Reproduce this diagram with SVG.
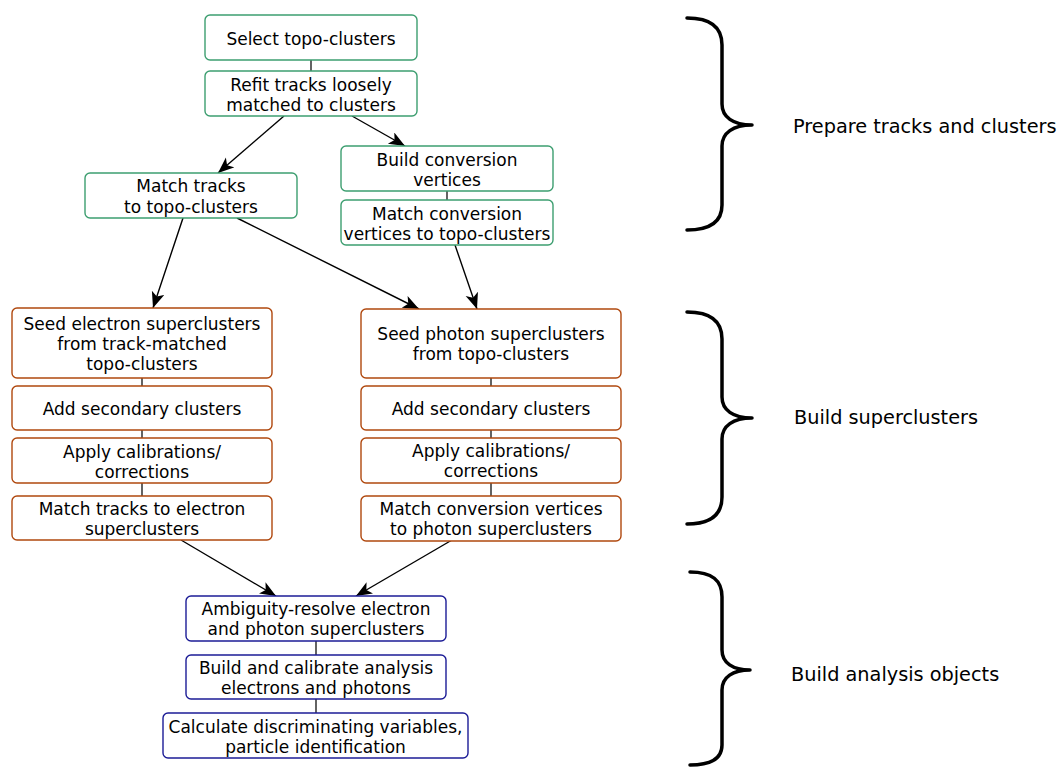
<svg xmlns="http://www.w3.org/2000/svg" width="1062" height="767" viewBox="0 0 1062 767">
<style>
  .box { fill: #ffffff; stroke-width: 1.4; }
  .g { stroke: #3d9e70; }
  .o { stroke: #b0480e; }
  .b { stroke: #1c1c96; }
  .t { font-family: "DejaVu Sans", "Liberation Sans", sans-serif; font-size: 17px; fill: #000; text-anchor: middle; }
  .lbl { font-family: "DejaVu Sans", "Liberation Sans", sans-serif; font-size: 19.3px; fill: #000; }
  .link { stroke: #222; stroke-width: 1.4; fill: none; }
  .arr { stroke: #000; stroke-width: 1.4; fill: none; marker-end: url(#ah); }
  .brace { stroke: #000; stroke-width: 3.5; fill: none; stroke-linecap: round; stroke-linejoin: round; }
</style>
<defs>
  <marker id="ah" markerUnits="userSpaceOnUse" markerWidth="18" markerHeight="14" refX="16" refY="6.5" orient="auto">
    <path d="M0,0 L16,6.5 L0,13 L4,6.5 Z" fill="#000"/>
  </marker>
</defs>
<rect width="1062" height="767" fill="#ffffff"/>

<g id="connectors">
  <line class="link" x1="311" y1="60" x2="311" y2="71"/>
  <line class="link" x1="447" y1="191" x2="447" y2="200"/>
  <line class="link" x1="142" y1="378" x2="142" y2="386"/>
  <line class="link" x1="142" y1="430" x2="142" y2="438"/>
  <line class="link" x1="142" y1="483" x2="142" y2="496"/>
  <line class="link" x1="491" y1="378" x2="491" y2="386"/>
  <line class="link" x1="491" y1="430" x2="491" y2="438"/>
  <line class="link" x1="491" y1="483" x2="491" y2="496"/>
  <line class="link" x1="316" y1="641" x2="316" y2="655"/>
  <line class="link" x1="316" y1="699" x2="316" y2="713"/>
  <line class="arr" x1="284" y1="116" x2="218" y2="173"/>
  <line class="arr" x1="352" y1="116" x2="405" y2="146"/>
  <line class="arr" x1="183" y1="218" x2="153" y2="308"/>
  <line class="arr" x1="237" y1="218" x2="419" y2="309"/>
  <line class="arr" x1="455" y1="245" x2="477" y2="309"/>
  <line class="arr" x1="181" y1="540" x2="276" y2="596"/>
  <line class="arr" x1="452" y1="540" x2="356" y2="596"/>
</g>

<g id="n1"><rect class="box g" x="205" y="15" width="212" height="45" rx="5"/><text class="t" x="311" y="44.5">Select topo-clusters</text></g>
<g id="n2"><rect class="box g" x="205" y="71" width="212" height="45" rx="5"/><text class="t" x="311" y="91">Refit tracks loosely</text><text class="t" x="311" y="111">matched to clusters</text></g>
<g id="n3"><rect class="box g" x="85" y="173" width="212" height="45" rx="5"/><text class="t" x="191" y="192">Match tracks</text><text class="t" x="191" y="212.5">to topo-clusters</text></g>
<g id="n4"><rect class="box g" x="341" y="146" width="212" height="45" rx="5"/><text class="t" x="447" y="165.5">Build conversion</text><text class="t" x="447" y="186">vertices</text></g>
<g id="n5"><rect class="box g" x="341" y="200" width="212" height="45" rx="5"/><text class="t" x="447" y="219.5">Match conversion</text><text class="t" x="447" y="239.5">vertices to topo-clusters</text></g>

<g id="e1"><rect class="box o" x="12" y="308" width="260" height="70" rx="5"/><text class="t" x="142" y="330">Seed electron superclusters</text><text class="t" x="142" y="350">from track-matched</text><text class="t" x="142" y="370">topo-clusters</text></g>
<g id="e2"><rect class="box o" x="12" y="386" width="260" height="44" rx="5"/><text class="t" x="142" y="414.5">Add secondary clusters</text></g>
<g id="e3"><rect class="box o" x="12" y="438" width="260" height="45" rx="5"/><text class="t" x="142" y="457.5">Apply calibrations/</text><text class="t" x="142" y="477.5">corrections</text></g>
<g id="e4"><rect class="box o" x="12" y="496" width="260" height="44" rx="5"/><text class="t" x="142" y="514.5">Match tracks to electron</text><text class="t" x="142" y="534.5">superclusters</text></g>

<g id="p1"><rect class="box o" x="361" y="309" width="260" height="69" rx="5"/><text class="t" x="491" y="340">Seed photon superclusters</text><text class="t" x="491" y="360">from topo-clusters</text></g>
<g id="p2"><rect class="box o" x="361" y="386" width="260" height="44" rx="5"/><text class="t" x="491" y="415">Add secondary clusters</text></g>
<g id="p3"><rect class="box o" x="361" y="438" width="260" height="45" rx="5"/><text class="t" x="491" y="457">Apply calibrations/</text><text class="t" x="491" y="477">corrections</text></g>
<g id="p4"><rect class="box o" x="361" y="496" width="260" height="45" rx="5"/><text class="t" x="491" y="514.5">Match conversion vertices</text><text class="t" x="491" y="534.5">to photon superclusters</text></g>

<g id="b1"><rect class="box b" x="186" y="596" width="260" height="45" rx="5"/><text class="t" x="316" y="615">Ambiguity-resolve electron</text><text class="t" x="316" y="635">and photon superclusters</text></g>
<g id="b2"><rect class="box b" x="186" y="655" width="260" height="44" rx="5"/><text class="t" x="316" y="674">Build and calibrate analysis</text><text class="t" x="316" y="694">electrons and photons</text></g>
<g id="b3"><rect class="box b" x="163" y="713" width="305" height="45" rx="5"/><text class="t" x="315.5" y="733">Calculate discriminating variables,</text><text class="t" x="315.5" y="753">particle identification</text></g>

<g id="brace1">
  <path class="brace" d="M687,18 C710,18 722,27 722,45 L722,104 C722,117 733,125 752,125 C733,125 722,133 722,146 L722,205 C722,222 710,230 687,230"/>
  <text class="lbl" x="793" y="133">Prepare tracks and clusters</text>
</g>
<g id="brace2">
  <path class="brace" d="M687,312 C710,312 722,321 722,339 L722,397 C722,410 733,418 752,418 C733,418 722,426 722,439 L722,497 C722,515 710,524 687,524"/>
  <text class="lbl" x="794" y="423.5">Build superclusters</text>
</g>
<g id="brace3">
  <path class="brace" d="M690,572 C712,572 722,580 722,597 L722,650 C722,663 733,670 750,670 C733,670 722,677 722,690 L722,745 C722,758 712,765 690,765"/>
  <text class="lbl" x="791" y="681">Build analysis objects</text>
</g>
</svg>
